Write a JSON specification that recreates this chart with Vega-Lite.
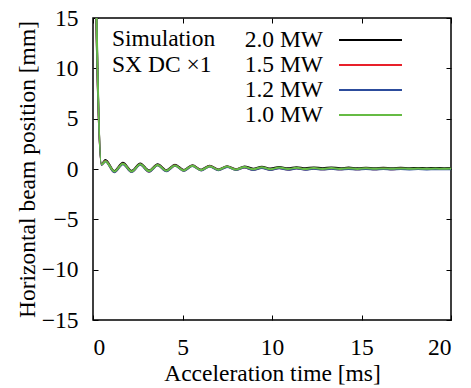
{
  "$schema": "https://vega.github.io/schema/vega-lite/v6.json",
  "width": 358,
  "height": 302,
  "autosize": {"type": "none"},
  "padding": {"left": 93, "top": 18, "right": 20, "bottom": 68},
  "background": "white",
  "config": {
    "font": "Liberation Serif, Times New Roman, DejaVu Serif, serif",
    "view": {"stroke": "black", "strokeWidth": 1.5},
    "axis": {
      "domain": false,
      "grid": false,
      "tickColor": "black",
      "tickSize": -5,
      "tickWidth": 1,
      "labelFont": "Liberation Serif, Times New Roman, DejaVu Serif, serif",
      "labelFontSize": 23.5,
      "labelColor": "black",
      "labelPadding": 20,
      "titleFont": "Liberation Serif, Times New Roman, DejaVu Serif, serif",
      "titleFontSize": 23.5,
      "titleFontWeight": "normal",
      "titleColor": "black"
    }
  },
  "data": {
    "values": [
      {"t": 0, "a": 33, "b": 34, "c": 35, "d": 36},
      {"t": 0.47, "a": 0.5, "b": 0.42, "c": 0.4, "d": 0.45},
      {"t": 0.7, "a": 0.9, "b": 0.8, "c": 0.75, "d": 0.78},
      {"t": 1.19, "a": -0.2, "b": -0.3, "c": -0.32, "d": -0.25},
      {"t": 1.67, "a": 0.62, "b": 0.52, "c": 0.48, "d": 0.52},
      {"t": 2.16, "a": -0.18, "b": -0.28, "c": -0.3, "d": -0.24},
      {"t": 2.64, "a": 0.55, "b": 0.45, "c": 0.42, "d": 0.46},
      {"t": 3.13, "a": -0.15, "b": -0.25, "c": -0.27, "d": -0.21},
      {"t": 3.61, "a": 0.48, "b": 0.4, "c": 0.37, "d": 0.4},
      {"t": 4.1, "a": -0.12, "b": -0.2, "c": -0.22, "d": -0.17},
      {"t": 4.58, "a": 0.43, "b": 0.36, "c": 0.33, "d": 0.36},
      {"t": 5.07, "a": -0.1, "b": -0.17, "c": -0.19, "d": -0.14},
      {"t": 5.55, "a": 0.38, "b": 0.32, "c": 0.29, "d": 0.32},
      {"t": 6.04, "a": -0.07, "b": -0.13, "c": -0.15, "d": -0.11},
      {"t": 6.52, "a": 0.33, "b": 0.27, "c": 0.25, "d": 0.28},
      {"t": 7.01, "a": -0.04, "b": -0.1, "c": -0.12, "d": -0.08},
      {"t": 7.49, "a": 0.28, "b": 0.23, "c": 0.21, "d": 0.24},
      {"t": 7.98, "a": -0.02, "b": -0.07, "c": -0.09, "d": -0.05},
      {"t": 8.46, "a": 0.26, "b": 0.16, "c": 0.14, "d": 0.2},
      {"t": 8.95, "a": 0.03, "b": -0.08, "c": -0.11, "d": -0.03},
      {"t": 9.43, "a": 0.23, "b": 0.12, "c": 0.1, "d": 0.17},
      {"t": 9.92, "a": 0.05, "b": -0.07, "c": -0.1, "d": -0.02},
      {"t": 10.4, "a": 0.2, "b": 0.09, "c": 0.07, "d": 0.14},
      {"t": 10.89, "a": 0.07, "b": -0.05, "c": -0.08, "d": 0.0},
      {"t": 11.37, "a": 0.18, "b": 0.07, "c": 0.05, "d": 0.12},
      {"t": 11.86, "a": 0.07, "b": -0.04, "c": -0.07, "d": 0.0},
      {"t": 12.34, "a": 0.16, "b": 0.05, "c": 0.03, "d": 0.1},
      {"t": 12.83, "a": 0.08, "b": -0.03, "c": -0.06, "d": 0.01},
      {"t": 13.31, "a": 0.15, "b": 0.04, "c": 0.02, "d": 0.09},
      {"t": 13.8, "a": 0.08, "b": -0.03, "c": -0.06, "d": 0.01},
      {"t": 14.28, "a": 0.14, "b": 0.03, "c": 0.01, "d": 0.08},
      {"t": 14.77, "a": 0.08, "b": -0.02, "c": -0.05, "d": 0.01},
      {"t": 15.25, "a": 0.13, "b": 0.03, "c": 0.0, "d": 0.07},
      {"t": 15.74, "a": 0.08, "b": -0.02, "c": -0.05, "d": 0.02},
      {"t": 16.22, "a": 0.12, "b": 0.02, "c": 0.0, "d": 0.06},
      {"t": 16.71, "a": 0.08, "b": -0.02, "c": -0.04, "d": 0.02},
      {"t": 17.19, "a": 0.12, "b": 0.02, "c": -0.01, "d": 0.06},
      {"t": 17.68, "a": 0.08, "b": -0.01, "c": -0.04, "d": 0.02},
      {"t": 18.16, "a": 0.11, "b": 0.01, "c": -0.01, "d": 0.05},
      {"t": 18.65, "a": 0.08, "b": -0.01, "c": -0.04, "d": 0.02},
      {"t": 19.13, "a": 0.11, "b": 0.01, "c": -0.02, "d": 0.05},
      {"t": 19.62, "a": 0.08, "b": -0.01, "c": -0.03, "d": 0.02},
      {"t": 20.0, "a": 0.09, "b": 0.0, "c": -0.02, "d": 0.04}
    ]
  },
  "transform": [{"fold": ["a", "b", "c", "d"], "as": ["k", "v"]}],
  "layer": [
    {
      "mark": {"type": "line", "clip": true, "strokeWidth": 2, "interpolate": "monotone"},
      "encoding": {
        "x": {
          "field": "t", "type": "quantitative",
          "scale": {"domain": [0, 20], "nice": false},
          "axis": {"values": [0, 5, 10, 15, 20], "title": "Acceleration time [ms]", "titlePadding": 3}
        },
        "y": {
          "field": "v", "type": "quantitative",
          "scale": {"domain": [-15, 15], "nice": false},
          "axis": {"values": [-15, -10, -5, 0, 5, 10, 15], "title": "Horizontal beam position [mm]", "titlePadding": 2}
        },
        "color": {
          "field": "k", "type": "nominal",
          "scale": {"domain": ["a", "b", "c", "d"], "range": ["#000000", "#e8202a", "#2c4c9c", "#66bb44"]},
          "legend": {
            "orient": "none",
            "legendX": 19,
            "legendY": 9,
            "title": ["Simulation", "SX DC ×1"],
            "titleOrient": "left",
            "titleAnchor": "start",
            "titleBaseline": "top",
            "titleFont": "Liberation Serif, Times New Roman, DejaVu Serif, serif",
            "titleFontSize": 23.5,
            "titleFontWeight": "normal",
            "titleColor": "black",
            "titleLineHeight": 26,
            "titlePadding": 141.5,
            "symbolType": "M-2.68,0H2.68",
            "symbolSize": 552,
            "symbolStrokeWidth": 2,
            "labelAlign": "right",
            "labelOffset": -60.5,
            "labelFont": "Liberation Serif, Times New Roman, DejaVu Serif, serif",
            "labelFontSize": 23.5,
            "labelColor": "black",
            "labelLimit": 0,
            "rowPadding": 0,
            "labelExpr": "{'a': '2.0 MW', 'b': '1.5 MW', 'c': '1.2 MW', 'd': '1.0 MW'}[datum.label]"
          }
        }
      }
    },
    {
      "mark": {"type": "line", "opacity": 0},
      "encoding": {
        "x": {
          "field": "t", "type": "quantitative",
          "scale": {"domain": [0, 20], "nice": false},
          "axis": {"orient": "top", "values": [0, 5, 10, 15, 20], "labels": false, "title": null}
        },
        "y": {
          "field": "v", "type": "quantitative",
          "scale": {"domain": [-15, 15], "nice": false},
          "axis": {"orient": "right", "values": [-15, -10, -5, 0, 5, 10, 15], "labels": false, "title": null}
        }
      }
    }
  ],
  "resolve": {"axis": {"x": "independent", "y": "independent"}}
}
